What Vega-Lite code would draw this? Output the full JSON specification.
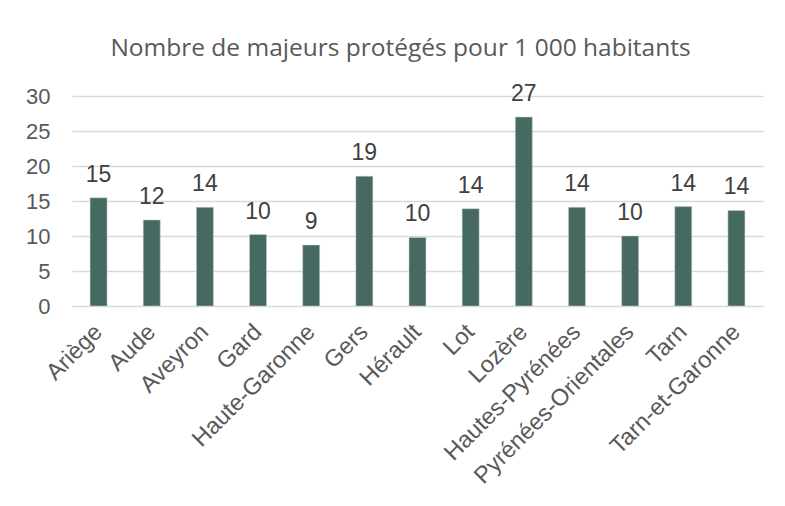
{
  "$schema": "https://vega.github.io/schema/vega-lite/v6.json",
  "autosize": "none",
  "width": 691,
  "height": 210,
  "padding": {"left": 72, "top": 96, "right": 22, "bottom": 200},
  "background": "white",
  "title": {
    "text": "Nombre de majeurs protégés pour 1 000 habitants",
    "font": "Open Sans",
    "fontSize": 24.5,
    "fontWeight": "normal",
    "color": "#595959",
    "anchor": "middle",
    "dx": -17,
    "offset": 22
  },
  "data": {
    "values": [
      {"departement": "Ariège", "taux": 15.45},
      {"departement": "Aude", "taux": 12.3},
      {"departement": "Aveyron", "taux": 14.1},
      {"departement": "Gard", "taux": 10.2},
      {"departement": "Haute-Garonne", "taux": 8.7},
      {"departement": "Gers", "taux": 18.55},
      {"departement": "Hérault", "taux": 9.8},
      {"departement": "Lot", "taux": 13.9},
      {"departement": "Lozère", "taux": 27.0},
      {"departement": "Hautes-Pyrénées", "taux": 14.1},
      {"departement": "Pyrénées-Orientales", "taux": 10.0},
      {"departement": "Tarn", "taux": 14.2},
      {"departement": "Tarn-et-Garonne", "taux": 13.65}
    ]
  },
  "encoding": {
    "x": {
      "field": "departement",
      "type": "nominal",
      "sort": null,
      "title": null,
      "axis": {
        "labelAngle": -45,
        "labelAlign": "right",
        "labelBaseline": "middle",
        "labelFont": "Liberation Sans",
        "labelFontSize": 23.5,
        "labelColor": "#595959",
        "labelPadding": 22,
        "ticks": false,
        "domain": false,
        "labelOverlap": false,
        "labelLimit": 300
      }
    },
    "y": {
      "field": "taux",
      "type": "quantitative",
      "title": null,
      "scale": {"domain": [0, 30]},
      "axis": {
        "values": [0, 5, 10, 15, 20, 25, 30],
        "labelFont": "Liberation Sans",
        "labelFontSize": 22,
        "labelColor": "#595959",
        "labelPadding": 22,
        "ticks": false,
        "domain": false,
        "grid": true,
        "gridColor": "#d9d9d9",
        "gridWidth": 1.3
      }
    }
  },
  "layer": [
    {
      "mark": {"type": "bar", "size": 17, "color": "#466a62", "stroke": "#c9d3d0", "strokeWidth": 0.5}
    },
    {
      "mark": {
        "type": "text",
        "baseline": "alphabetic",
        "dy": -16,
        "font": "Liberation Sans",
        "fontSize": 23,
        "color": "#404040"
      },
      "encoding": {
        "text": {"field": "taux", "type": "quantitative", "format": ".0f"}
      }
    }
  ],
  "config": {
    "view": {"stroke": null},
    "scale": {"bandPaddingInner": 0.68, "bandPaddingOuter": 0.34}
  }
}
